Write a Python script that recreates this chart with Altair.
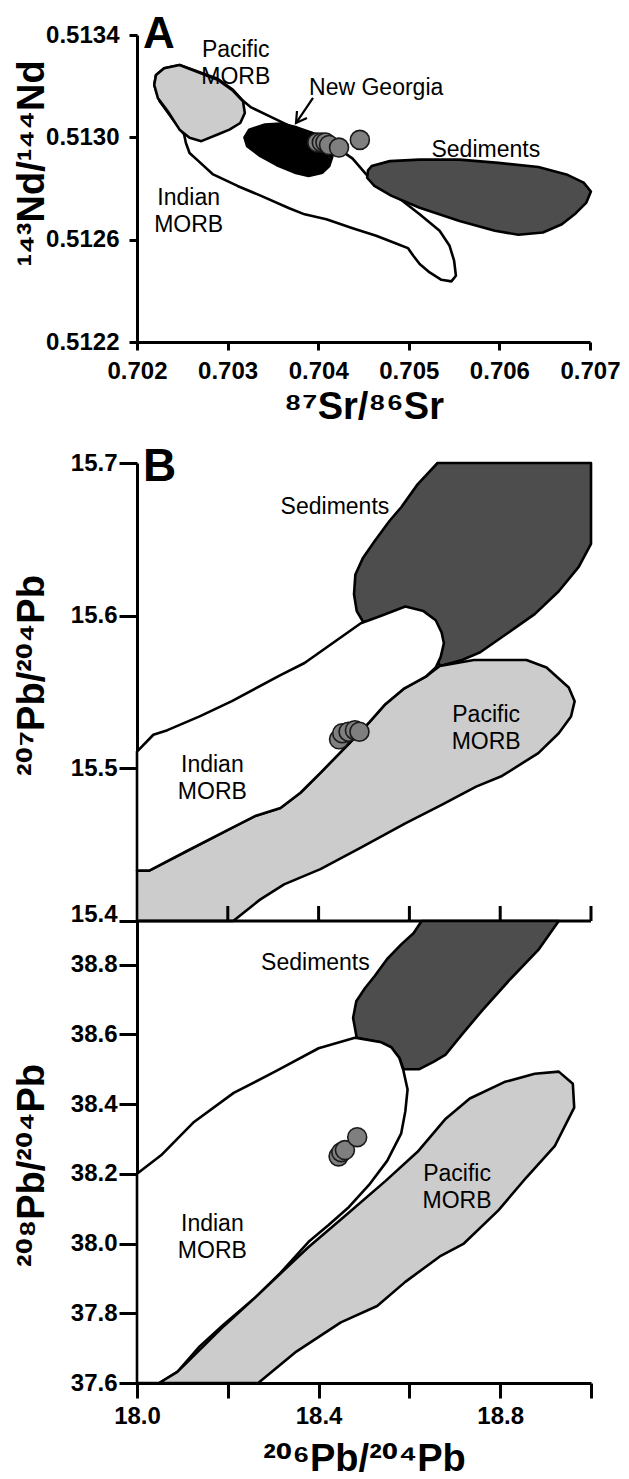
import altair as alt
import pandas as pd

# ---------------- Panel A : 87Sr/86Sr vs 143Nd/144Nd ----------------
A_IND_X = [0.70247, 0.70289, 0.70306, 0.70317, 0.70326, 0.70350, 0.70372, 0.70403, 0.70424,
           0.70438, 0.70453, 0.70481, 0.70512, 0.70534, 0.70545, 0.70550, 0.70552, 0.70547,
           0.70536, 0.70523, 0.70512, 0.70505, 0.70499, 0.70486, 0.70464, 0.70438, 0.70409,
           0.70385, 0.70368, 0.70337, 0.70311, 0.70284, 0.70267, 0.70258, 0.70254, 0.70252,
           0.70241, 0.70225, 0.70219, 0.70221, 0.70230]
A_IND_Y = [0.513283, 0.513229, 0.513186, 0.513143, 0.513117, 0.513076, 0.513039, 0.512995, 0.512952,
           0.512917, 0.512855, 0.512784, 0.512699, 0.512635, 0.512576, 0.512518, 0.512459, 0.512437,
           0.512443, 0.512472, 0.512505, 0.512537, 0.512567, 0.512585, 0.512615, 0.512645, 0.512680,
           0.512699, 0.512723, 0.512771, 0.512810, 0.512855, 0.512910, 0.512939, 0.512978, 0.513011,
           0.513063, 0.513141, 0.513205, 0.513244, 0.513270]

A_PAC_X = [0.70247, 0.70289, 0.70306, 0.70317, 0.70319, 0.70314, 0.70302, 0.70289, 0.70271,
           0.70258, 0.70247, 0.70234, 0.70223, 0.70219, 0.70221, 0.70230]
A_PAC_Y = [0.513283, 0.513225, 0.513182, 0.513141, 0.513095, 0.513056, 0.513030, 0.513011, 0.512985,
           0.512998, 0.513030, 0.513102, 0.513154, 0.513205, 0.513244, 0.513270]

A_SED_X = [0.70459, 0.70479, 0.70512, 0.70556, 0.70599, 0.70643, 0.70674, 0.70693, 0.70701,
           0.70696, 0.70683, 0.70669, 0.70648, 0.70621, 0.70595, 0.70556, 0.70512, 0.70481,
           0.70462, 0.70454, 0.70455]
A_SED_Y = [0.512888, 0.512907, 0.512913, 0.512913, 0.512900, 0.512884, 0.512855, 0.512823, 0.512788,
           0.512745, 0.512699, 0.512660, 0.512628, 0.512619, 0.512635, 0.512673, 0.512725, 0.512771,
           0.512810, 0.512842, 0.512871]

A_NG_X = [0.703238, 0.703413, 0.703588, 0.703763, 0.703938, 0.704091, 0.704165, 0.704157,
          0.704122, 0.704047, 0.703894, 0.703741, 0.703544, 0.703347, 0.703216, 0.703186]
A_NG_Y = [0.513030, 0.513050, 0.513054, 0.513039, 0.513017, 0.513000, 0.512972, 0.512926,
          0.512888, 0.512862, 0.512849, 0.512862, 0.512891, 0.512930, 0.512965, 0.513000]

A_PTS_X = [0.70399, 0.70404, 0.70408, 0.70412, 0.70423, 0.70446]
A_PTS_Y = [0.51298, 0.51298, 0.51298, 0.51297, 0.51296, 0.51299]

A_ARROW_SEG = ["shaft", "shaft", "head", "head", "head"]
A_ARROW_X = [0.703943, 0.703755, 0.703766, 0.703755, 0.703876]
A_ARROW_Y = [0.513154, 0.513056, 0.513103, 0.513056, 0.513076]

A_LAB_TEXT = ["Pacific\nMORB", "New Georgia", "Sediments", "Indian\nMORB"]
A_LAB_X = [0.70309, 0.70464, 0.70585, 0.70257]
A_LAB_Y = [0.513342, 0.513192, 0.512952, 0.512764]

A_XTICKS = [0.702, 0.703, 0.704, 0.705, 0.706, 0.707]
A_YTICKS = [0.5122, 0.5126, 0.5130, 0.5134]

# ---------------- Panel B (top) : 206Pb/204Pb vs 207Pb/204Pb ----------------
BT_IND_X = [18.000, 18.036, 18.067, 18.138, 18.209, 18.316, 18.369, 18.493, 18.538, 18.591,
            18.631, 18.658, 18.671, 18.676, 18.669, 18.658, 18.636, 18.587, 18.547, 18.511,
            18.476, 18.440, 18.404, 18.360, 18.316, 18.262, 18.209, 18.111, 18.027, 18.000]
BT_IND_Y = [15.511, 15.522, 15.525, 15.534, 15.544, 15.561, 15.569, 15.595, 15.600, 15.606,
            15.603, 15.597, 15.589, 15.582, 15.573, 15.566, 15.560, 15.552, 15.542, 15.530,
            15.519, 15.508, 15.497, 15.484, 15.474, 15.469, 15.461, 15.446, 15.433, 15.433]

BT_PAC_X = [18.000, 18.027, 18.111, 18.209, 18.262, 18.316, 18.360, 18.404, 18.440, 18.476,
            18.511, 18.547, 18.587, 18.636, 18.667, 18.742, 18.858, 18.902, 18.951, 18.964,
            18.956, 18.929, 18.884, 18.804, 18.747, 18.671, 18.591, 18.493, 18.404, 18.324,
            18.271, 18.212, 18.000]
BT_PAC_Y = [15.433, 15.433, 15.446, 15.461, 15.469, 15.474, 15.484, 15.497, 15.508, 15.519,
            15.530, 15.542, 15.552, 15.560, 15.567, 15.571, 15.571, 15.566, 15.553, 15.544,
            15.534, 15.523, 15.510, 15.495, 15.488, 15.476, 15.464, 15.448, 15.434, 15.424,
            15.414, 15.400, 15.400]

BT_SED_X = [18.662, 19.000, 19.000, 18.973, 18.929, 18.876, 18.809, 18.756, 18.716, 18.667,
            18.653, 18.618, 18.498, 18.484, 18.478, 18.481, 18.498, 18.524, 18.556, 18.582,
            18.618]
BT_SED_Y = [15.700, 15.700, 15.647, 15.632, 15.616, 15.601, 15.587, 15.576, 15.571, 15.567,
            15.579, 15.597, 15.596, 15.603, 15.614, 15.627, 15.638, 15.649, 15.662, 15.671,
            15.686]

BT_PTS_X = [18.445, 18.452, 18.466, 18.480, 18.490]
BT_PTS_Y = [15.519, 15.523, 15.524, 15.525, 15.524]

BT_LAB_TEXT = ["Sediments", "Indian\nMORB", "Pacific\nMORB"]
BT_LAB_X = [18.436, 18.166, 18.769]
BT_LAB_Y = [15.671, 15.502, 15.535]

BT_YTICKS = [15.4, 15.5, 15.6, 15.7]
B_XTICKS = [18.0, 18.2, 18.4, 18.6, 18.8, 19.0]
B_XTICKS_UP = [18.2, 18.4, 18.6, 18.8, 19.0]

# ---------------- Panel B (bottom) : 206Pb/204Pb vs 208Pb/204Pb ----------------
BB_SED_X = [18.627, 18.929, 18.884, 18.822, 18.760, 18.716, 18.680, 18.653, 18.622, 18.587,
            18.578, 18.560, 18.538, 18.484, 18.476, 18.483, 18.502, 18.524, 18.551, 18.582,
            18.609]
BB_SED_Y = [38.925, 38.925, 38.842, 38.758, 38.668, 38.600, 38.542, 38.521, 38.500, 38.500,
            38.532, 38.563, 38.577, 38.590, 38.647, 38.695, 38.732, 38.768, 38.816, 38.858,
            38.890]

BB_IND_X = [18.000, 18.053, 18.124, 18.213, 18.307, 18.400, 18.480, 18.538, 18.560, 18.578,
            18.587, 18.596, 18.591, 18.582, 18.551, 18.511, 18.467, 18.422, 18.378, 18.316,
            18.262, 18.191, 18.138, 18.089, 18.049, 18.000]
BB_IND_Y = [38.200, 38.253, 38.347, 38.432, 38.495, 38.560, 38.590, 38.577, 38.563, 38.532,
            38.495, 38.442, 38.379, 38.316, 38.237, 38.168, 38.105, 38.053, 38.005, 37.916,
            37.847, 37.768, 37.705, 37.632, 37.600, 37.600]

BB_PAC_X = [18.049, 18.089, 18.191, 18.262, 18.316, 18.378, 18.458, 18.547, 18.618, 18.680,
            18.733, 18.809, 18.876, 18.929, 18.960, 18.963, 18.920, 18.858, 18.796, 18.720,
            18.667, 18.591, 18.529, 18.449, 18.351, 18.267]
BB_PAC_Y = [37.600, 37.632, 37.763, 37.847, 37.914, 37.990, 38.079, 38.179, 38.263, 38.358,
            38.416, 38.463, 38.487, 38.493, 38.458, 38.390, 38.279, 38.190, 38.095, 38.000,
            37.963, 37.890, 37.821, 37.774, 37.690, 37.600]

BB_PTS_X = [18.444, 18.450, 18.458, 18.485]
BB_PTS_Y = [38.250, 38.262, 38.268, 38.305]

BB_LAB_TEXT = ["Sediments", "Indian\nMORB", "Pacific\nMORB"]
BB_LAB_X = [18.393, 18.166, 18.705]
BB_LAB_Y = [38.805, 38.056, 38.198]

BB_YTICKS = [37.6, 37.8, 38.0, 38.2, 38.4, 38.6, 38.8]

# ---------------- styling ----------------
FONT = "Liberation Sans, Arial, DejaVu Sans, sans-serif"
LIGHT = "#cccccc"
DARK = "#4d4d4d"
PT_FILL = "#7f7f7f"
LW = 2.6


def poly_df(xs, ys):
    return pd.DataFrame({"x": xs, "y": ys, "i": list(range(len(xs)))})


def pts_df(xs, ys):
    return pd.DataFrame({"x": xs, "y": ys})


def lab_df(texts, xs, ys):
    return pd.DataFrame({"t": texts, "x": xs, "y": ys})


# scales
xA = alt.Scale(domain=[0.702, 0.707], zero=False, nice=False)
yA = alt.Scale(domain=[0.5122, 0.5134], zero=False, nice=False)
xB = alt.Scale(domain=[18.0, 19.0], zero=False, nice=False)
yBt = alt.Scale(domain=[15.4, 15.7], range=[458, 0], zero=False, nice=False)
yBb = alt.Scale(domain=[37.6, 38.925], range=[920, 458], zero=False, nice=False)

# axes
axAx = alt.Axis(title="⁸⁷Sr/⁸⁶Sr", values=A_XTICKS, format=".3f", tickSize=8,
                labelPadding=9, titleY=76, titleBaseline="alphabetic",
                labelFlush=False, labelOverlap=False)
axAy = alt.Axis(title="¹⁴³Nd/¹⁴⁴Nd", values=A_YTICKS, format=".4f", tickSize=8,
                labelPadding=10, titleX=-94, titleY=128, titleBaseline="alphabetic",
                labelFlush=False, labelOverlap=False)
axBx = alt.Axis(title="²⁰⁶Pb/²⁰⁴Pb", values=B_XTICKS, format=".1f", tickSize=15,
                labelPadding=6, titleY=87, titleBaseline="alphabetic",
                labelExpr="indexof(['18.0','18.4','18.8'], datum.label) >= 0 ? datum.label : ''",
                labelFlush=False, labelOverlap=False)
axBty = alt.Axis(title="²⁰⁷Pb/²⁰⁴Pb", orient="left", values=BT_YTICKS, format=".1f",
                 tickSize=18, labelPadding=2, titleX=-94, titleY=212,
                 titleBaseline="alphabetic", labelFlush=False, labelOverlap=False,
                 labelOffset=alt.condition("datum.value == 15.4", alt.value(-7), alt.value(0)))
axBby = alt.Axis(title="²⁰⁸Pb/²⁰⁴Pb", orient="left", values=BB_YTICKS, format=".1f",
                 tickSize=18, labelPadding=2, titleX=-94, titleY=702,
                 titleBaseline="alphabetic", labelFlush=False, labelOverlap=False)


def polygon(xs, ys, fill, xs_, ys_, axx, axy):
    return alt.Chart(poly_df(xs, ys)).mark_line(
        interpolate="linear-closed", fill=fill, stroke="black", strokeWidth=LW,
        strokeJoin="round"
    ).encode(
        x=alt.X("x:Q", scale=xs_, axis=axx),
        y=alt.Y("y:Q", scale=ys_, axis=axy),
        order="i:Q",
    )


def points(xs, ys, xs_, ys_, axx, axy):
    return alt.Chart(pts_df(xs, ys)).mark_point(
        shape="circle", filled=True, fill=PT_FILL, stroke="#1a1a1a", strokeWidth=1.6,
        size=360, opacity=1
    ).encode(
        x=alt.X("x:Q", scale=xs_, axis=axx),
        y=alt.Y("y:Q", scale=ys_, axis=axy),
    )


def labels(texts, xs, ys, xs_, ys_, axx, axy):
    return alt.Chart(lab_df(texts, xs, ys)).mark_text(
        font=FONT, fontSize=23, color="black", align="center", baseline="middle",
        lineBreak="\n", lineHeight=27
    ).encode(
        x=alt.X("x:Q", scale=xs_, axis=axx),
        y=alt.Y("y:Q", scale=ys_, axis=axy),
        text="t:N",
    )


def panel_letter(letter, ypix, size):
    return alt.Chart(pd.DataFrame({"t": [letter]})).mark_text(
        font=FONT, fontSize=size, fontWeight="bold", color="black", align="left",
        baseline="alphabetic"
    ).encode(x=alt.value(6), y=alt.value(ypix), text="t:N")


# ---------------- Panel A ----------------
arrow = alt.Chart(pd.DataFrame({"x": A_ARROW_X, "y": A_ARROW_Y, "seg": A_ARROW_SEG,
                                "i": list(range(len(A_ARROW_X)))})).mark_line(
    color="black", strokeWidth=2.2
).encode(
    x=alt.X("x:Q", scale=xA, axis=axAx),
    y=alt.Y("y:Q", scale=yA, axis=axAy),
    detail="seg:N",
    order="i:Q",
)

panelA = alt.layer(
    polygon(A_IND_X, A_IND_Y, "white", xA, yA, axAx, axAy),
    polygon(A_PAC_X, A_PAC_Y, LIGHT, xA, yA, axAx, axAy),
    polygon(A_SED_X, A_SED_Y, DARK, xA, yA, axAx, axAy),
    polygon(A_NG_X, A_NG_Y, "black", xA, yA, axAx, axAy),
    arrow,
    points(A_PTS_X, A_PTS_Y, xA, yA, axAx, axAy),
    labels(A_LAB_TEXT, A_LAB_X, A_LAB_Y, xA, yA, axAx, axAy),
    panel_letter("A", 13, 44),
).properties(width=453, height=307)

# ---------------- Panel B ----------------
divider = alt.Chart(pd.DataFrame({"x": [18.0], "x2": [19.0], "y": [15.4]})).mark_rule(
    color="black", strokeWidth=3
).encode(
    x=alt.X("x:Q", scale=xB, axis=axBx),
    x2="x2:Q",
    y=alt.Y("y:Q", scale=yBt, axis=axBty),
)
up_ticks = alt.Chart(pd.DataFrame({"x": B_XTICKS_UP, "y": [15.4] * len(B_XTICKS_UP)})).mark_rule(
    color="black", strokeWidth=3
).encode(
    x=alt.X("x:Q", scale=xB, axis=axBx),
    y=alt.Y("y:Q", scale=yBt, axis=axBty),
    y2=alt.value(443),
)

b_top = alt.layer(
    polygon(BT_SED_X, BT_SED_Y, DARK, xB, yBt, axBx, axBty),
    polygon(BT_PAC_X, BT_PAC_Y, LIGHT, xB, yBt, axBx, axBty),
    polygon(BT_IND_X, BT_IND_Y, "white", xB, yBt, axBx, axBty),
    divider,
    up_ticks,
    points(BT_PTS_X, BT_PTS_Y, xB, yBt, axBx, axBty),
    labels(BT_LAB_TEXT, BT_LAB_X, BT_LAB_Y, xB, yBt, axBx, axBty),
    panel_letter("B", 18, 46),
)

b_bot = alt.layer(
    polygon(BB_SED_X, BB_SED_Y, DARK, xB, yBb, axBx, axBby),
    polygon(BB_IND_X, BB_IND_Y, "white", xB, yBb, axBx, axBby),
    polygon(BB_PAC_X, BB_PAC_Y, LIGHT, xB, yBb, axBx, axBby),
    points(BB_PTS_X, BB_PTS_Y, xB, yBb, axBx, axBby),
    labels(BB_LAB_TEXT, BB_LAB_X, BB_LAB_Y, xB, yBb, axBx, axBby),
)

panelB = alt.layer(b_top, b_bot).resolve_scale(y="independent").properties(
    width=454, height=920
)

chart = alt.vconcat(panelA, panelB, spacing=18).properties(
    padding={"left": 4, "top": 5, "right": 0, "bottom": 0}
).configure_view(
    strokeWidth=0
).configure_axis(
    grid=False,
    domainColor="black",
    domainWidth=3,
    tickColor="black",
    tickWidth=3,
    labelFont=FONT,
    labelFontSize=24,
    labelFontWeight="bold",
    labelColor="black",
    titleFont=FONT,
    titleFontSize=38,
    titleFontWeight="bold",
    titleColor="black",
)

chart.save("out.html", embed_options={"renderer": "svg", "actions": False})
